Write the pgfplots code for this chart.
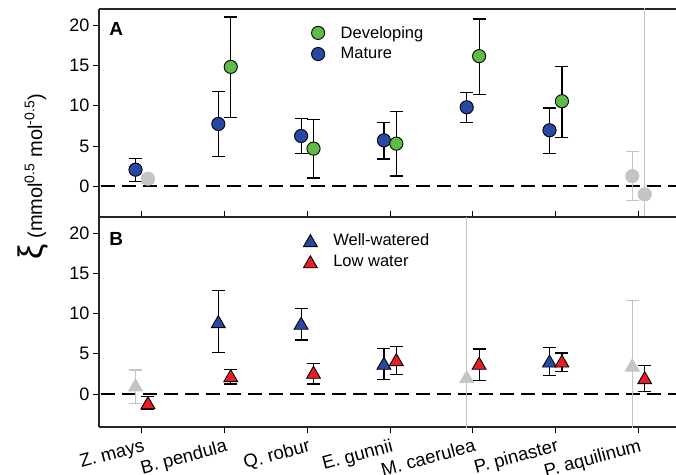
\documentclass[border=0pt]{standalone}
\usepackage{fontspec}
\setmainfont{Liberation Sans}
\usepackage{pgfplots}
\usepackage{pgfplotstable}
\pgfplotsset{compat=1.18}

\definecolor{devgreen}{RGB}{94,188,70}
\definecolor{matblue}{RGB}{40,72,165}
\definecolor{lowred}{RGB}{234,28,36}
\definecolor{lgray}{RGB}{196,196,196}

% Panel A
\pgfplotstableread{
x y ep em
-0.075 2.07 1.43 1.47
0.925 7.74 4.02 4.01
1.925 6.25 2.16 2.19
2.925 5.71 2.24 2.32
3.925 9.81 1.87 1.90
4.925 6.96 2.77 2.90
}\matA
\pgfplotstableread{
x y ep em
5.925 1.28 3.03 3.06
}\matAgray
\pgfplotstableread{
x y ep em
1.075 14.82 6.18 6.25
2.075 4.68 3.64 3.65
3.075 5.30 4.02 4.02
4.075 16.15 4.60 4.72
5.075 10.56 4.34 4.47
}\devA
\pgfplotstableread{
x y ep em
0.075 0.95 0.55 0.55
6.075 -0.99 40 40
}\devAgray
% Panel B
\pgfplotstableread{
x y ep em
0.925 9.00 3.90 3.86
1.925 8.80 1.82 2.08
2.925 3.82 1.82 1.99
4.925 4.10 1.67 1.82
}\wwB
\pgfplotstableread{
x y ep em
-0.075 1.12 1.87 2.28
3.925 2.15 40 40
5.925 3.60 8.00 9.00
}\wwBgray
\pgfplotstableread{
x y ep em
0.075 -1.08 0.75 0.79
1.075 2.28 0.80 1.03
2.075 2.70 1.07 1.45
3.075 4.27 1.67 1.82
4.075 3.82 1.78 2.12
5.075 4.10 1.00 1.28
6.075 2.03 1.54 1.74
}\lowB

\pgfplotsset{
  panel/.style={
    scale only axis, width=577pt,
    xmin=-0.516, xmax=6.453,
    ytick={0,5,10,15,20},
    axis y line*=left,
    tick align=outside,
    major tick length=6pt,
    tick style={line width=1pt, black},
    axis line style={line width=1.2pt, black!85},
    /pgf/number format/assume math mode=true,
    yticklabel style={font=\fontsize{18}{20}\selectfont},
    clip=true,
    legend cell align=left,
  },
  zeroline/.style={black, dash pattern=on 14pt off 7pt, line width=2pt, forget plot},
  ebar/.style={draw=none, mark=none, forget plot,
    error bars/.cd, y dir=both, y explicit,
    error bar style={draw=#1, line width=1.2pt, solid},
    error mark options={draw=#1, rotate=90, mark size=6.5pt, line width=1.2pt}},
  circ/.style={only marks, mark=*, mark size=6.6pt, forget plot,
    mark options={fill=#1, draw=black, line width=0.9pt}},
  gcirc/.style={only marks, mark=*, mark size=6.6pt, forget plot,
    mark options={fill=lgray, draw=lgray, line width=0.9pt}},
  tri/.style={only marks, mark=triangle*, mark size=8pt, forget plot,
    mark options={fill=#1, draw=black, line width=0.9pt, yshift=-2pt}},
  gtri/.style={only marks, mark=triangle*, mark size=8pt, forget plot,
    mark options={fill=lgray, draw=lgray, line width=0.9pt, yshift=-2pt}},
  leg/.style={draw=none, fill=none, anchor=north west,
    font=\fontsize{16.5}{18}\selectfont, inner sep=0pt, row sep=4pt,
    /tikz/every odd column/.append style={column sep=14pt}},
}

\begin{document}
\begin{tikzpicture}
\useasboundingbox (0,0) rectangle (676pt,-474pt);
\begin{axis}[panel, name=A, at={(99pt,-9pt)}, anchor=north west,
  height=208pt, ymin=-3.8, ymax=22, xtick=\empty,
  legend style={leg, at={(rel axis cs:0.368,0.928)}},
]
\addlegendimage{only marks, mark=*, mark size=6.6pt, mark options={fill=devgreen, draw=black, line width=0.9pt}}
\addlegendentry{Developing}
\addlegendimage{only marks, mark=*, mark size=6.6pt, mark options={fill=matblue, draw=black, line width=0.9pt}}
\addlegendentry{Mature}
\addplot[zeroline] coordinates {(-1,0) (7,0)};
\addplot[ebar=lgray] table[x=x, y=y, y error plus=ep, y error minus=em] {\matAgray};
\addplot[ebar=lgray] table[x=x, y=y, y error plus=ep, y error minus=em] {\devAgray};
\addplot[gcirc] table[x=x, y=y] {\matAgray};
\addplot[gcirc] table[x=x, y=y] {\devAgray};
\addplot[ebar=black] table[x=x, y=y, y error plus=ep, y error minus=em] {\matA};
\addplot[ebar=black] table[x=x, y=y, y error plus=ep, y error minus=em] {\devA};
\addplot[circ=matblue] table[x=x, y=y] {\matA};
\addplot[circ=devgreen] table[x=x, y=y] {\devA};
\node[font=\bfseries\fontsize{19}{20}\selectfont] at (rel axis cs:0.030,0.904) {A};
\end{axis}

\begin{axis}[panel, name=B, at={(99pt,-217pt)}, anchor=north west,
  height=210pt, ymin=-4.1, ymax=22,
  xtick={0,1,2,3,4,5,6}, xtick pos=both,
  xticklabels={Z. mays, B. pendula, Q. robur, E. gunnii, M. caerulea, P. pinaster, P. aquilinum},
  xticklabel style={rotate=15, anchor=north east, font=\fontsize{18.5}{20}\selectfont, inner sep=1pt, yshift=-4pt},
  legend style={leg, at={(rel axis cs:0.354,0.930)}},
]
\addlegendimage{only marks, mark=triangle*, mark size=8pt, mark options={fill=matblue, draw=black, line width=0.9pt, yshift=-2pt}}
\addlegendentry{Well-watered}
\addlegendimage{only marks, mark=triangle*, mark size=8pt, mark options={fill=lowred, draw=black, line width=0.9pt, yshift=-2pt}}
\addlegendentry{Low water}
\addplot[zeroline] coordinates {(-1,0) (7,0)};
\addplot[ebar=lgray] table[x=x, y=y, y error plus=ep, y error minus=em] {\wwBgray};
\addplot[gtri] table[x=x, y=y] {\wwBgray};
\addplot[ebar=black] table[x=x, y=y, y error plus=ep, y error minus=em] {\wwB};
\addplot[ebar=black] table[x=x, y=y, y error plus=ep, y error minus=em] {\lowB};
\addplot[tri=matblue] table[x=x, y=y] {\wwB};
\addplot[tri=lowred] table[x=x, y=y] {\lowB};
\node[font=\bfseries\fontsize{19}{20}\selectfont] at (rel axis cs:0.030,0.896) {B};
\end{axis}

\node[rotate=90, anchor=base west, inner sep=0pt] at (42pt,-260pt)
  {{\fontsize{34}{34}\selectfont ξ}\hspace{6pt}{\fontsize{20}{22}\selectfont (mmol\textsuperscript{0.5} mol\textsuperscript{-0.5})}};
\end{tikzpicture}
\end{document}
